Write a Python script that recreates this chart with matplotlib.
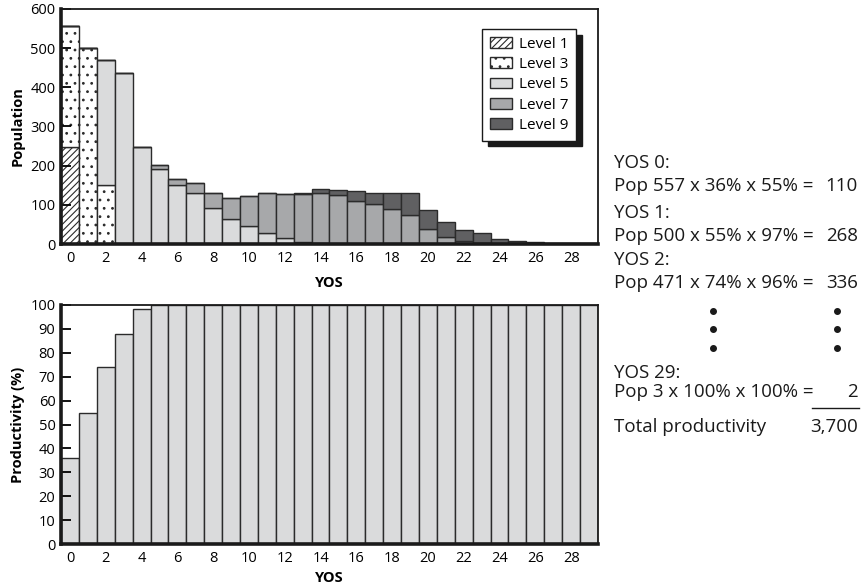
import numpy as np
import matplotlib
matplotlib.use("Agg")
import matplotlib.pyplot as plt
from matplotlib.patches import Patch

plt.rcParams.update({
    "font.family": ["Open Sans", "DejaVu Sans"],
    "font.size": 10.5,
    "hatch.linewidth": 0.8,
})

# ---- data ----
yos = np.arange(30)
level1 = [248] + [0] * 29
level3 = [309, 500, 151] + [0] * 27
level5 = [0, 0, 320, 437, 248, 192, 150, 131, 91, 64, 46, 29, 15, 4, 2,
          1] + [0] * 14
level7 = [0, 0, 0, 0, 0, 9, 17, 24, 38, 53, 76, 100, 112, 123, 128,
          123, 111, 103, 89, 73, 38, 19, 8, 3, 0, 0, 0, 0, 0, 0]
level9 = [0] * 12 + [1, 2, 10, 13, 25, 28, 42, 58, 48, 38, 29, 25,
                     14, 8, 4, 2, 2, 3]
productivity = [36, 55, 74, 88, 98.5] + [100] * 25

level_names = ["Level 1", "Level 3", "Level 5", "Level 7", "Level 9"]

# ---- styles ----
EDGE = "#2b2b2b"
C_L5 = "#dadbdc"
C_L7 = "#a7a8aa"
C_L9 = "#606062"
H_L1 = "/////"
H_L3 = ".."

fig = plt.figure(figsize=(8.65, 5.84), dpi=100)
ax1 = fig.add_axes([61 / 865, 1 - 244 / 584, 537 / 865, 235 / 584])
ax2 = fig.add_axes([61 / 865, 1 - 544 / 584, 537 / 865, 239 / 584])


def style_axes(ax):
    for s in ("left", "bottom"):
        ax.spines[s].set_linewidth(2.6)
    for s in ("top", "right"):
        ax.spines[s].set_linewidth(1.3)
    for s in ax.spines.values():
        s.set_color("#1a1a1a")
    ax.tick_params(axis="y", direction="in", length=7, width=1.3,
                   labelsize=10.5, pad=4)
    ax.tick_params(axis="x", length=0, labelsize=10.5, pad=5)
    ax.set_xlim(-0.5, 29.5)
    ax.set_xticks(np.arange(0, 29, 2))


bkw = dict(width=1.0, edgecolor=EDGE, linewidth=1.0)
bottom = np.zeros(30)
ax1.bar(yos, level1, bottom=bottom, color="white", hatch=H_L1, **bkw)
bottom += level1
ax1.bar(yos, level3, bottom=bottom, color="white", hatch=H_L3, **bkw)
bottom += level3
ax1.bar(yos, level5, bottom=bottom, color=C_L5, **bkw)
bottom += level5
ax1.bar(yos, level7, bottom=bottom, color=C_L7, **bkw)
bottom += level7
ax1.bar(yos, level9, bottom=bottom, color=C_L9, **bkw)

ax1.set_ylim(0, 600)
ax1.set_yticks(np.arange(0, 601, 100))
style_axes(ax1)
ax1.set_ylabel("Population", fontweight="bold", labelpad=4)
ax1.set_xlabel("YOS", fontweight="bold", labelpad=7)

handles = [
    Patch(facecolor="white", edgecolor=EDGE, hatch=H_L1),
    Patch(facecolor="white", edgecolor=EDGE, hatch=H_L3),
    Patch(facecolor=C_L5, edgecolor=EDGE),
    Patch(facecolor=C_L7, edgecolor=EDGE),
    Patch(facecolor=C_L9, edgecolor=EDGE),
]
leg = ax1.legend(handles, level_names, loc="upper right",
                 bbox_to_anchor=(0.959, 0.915), borderaxespad=0,
                 fancybox=False,
                 shadow={"color": "#1a1a1a", "alpha": 1, "ox": 4, "oy": -4},
                 edgecolor="#1a1a1a", handlelength=1.45, handleheight=0.7,
                 labelspacing=0.35, handletextpad=0.45, borderpad=0.5,
                 fontsize=11)
leg.get_frame().set_linewidth(1.0)

ax2.bar(yos, productivity, color=C_L5, **bkw)
ax2.set_ylim(0, 100)
ax2.set_yticks(np.arange(0, 101, 10))
style_axes(ax2)
ax2.set_ylabel("Productivity (%)", fontweight="bold", labelpad=4)
ax2.set_xlabel("YOS", fontweight="bold", labelpad=4)

# ---- worked calculation on the right ----
X0 = 614 / 865
XR = 858 / 865
FS = 13.5


def ftxt(x, ypx, s, ha="left"):
    fig.text(x, 1 - ypx / 584, s, ha=ha, va="center", fontsize=FS,
             color="#1a1a1a")


ftxt(X0, 163, "YOS 0:")
ftxt(X0, 186, "Pop 557 x 36% x 55% =")
ftxt(XR, 186, "110", ha="right")
ftxt(X0, 213, "YOS 1:")
ftxt(X0, 236, "Pop 500 x 55% x 97% =")
ftxt(XR, 236, "268", ha="right")
ftxt(X0, 260, "YOS 2:")
ftxt(X0, 283, "Pop 471 x 74% x 96% =")
ftxt(XR, 283, "336", ha="right")

# vertical ellipsis dots (two columns)
dot_y = [1 - v / 584 for v in (311, 329, 348)]
for xpx in (713, 837):
    fig.add_artist(plt.Line2D([xpx / 865] * 3, dot_y, linestyle="none",
                              marker="o", markersize=4, color="#1a1a1a"))

ftxt(X0, 373, "YOS 29:")
ftxt(X0, 392, "Pop 3 x 100% x 100% =")
ftxt(XR, 392, "2", ha="right")
fig.add_artist(plt.Line2D([812 / 865, 859 / 865], [1 - 408 / 584] * 2,
                          color="#1a1a1a", linewidth=1.0))
ftxt(X0, 427, "Total productivity")
ftxt(XR, 427, "3,700", ha="right")

fig.savefig("out.png", dpi=100)
